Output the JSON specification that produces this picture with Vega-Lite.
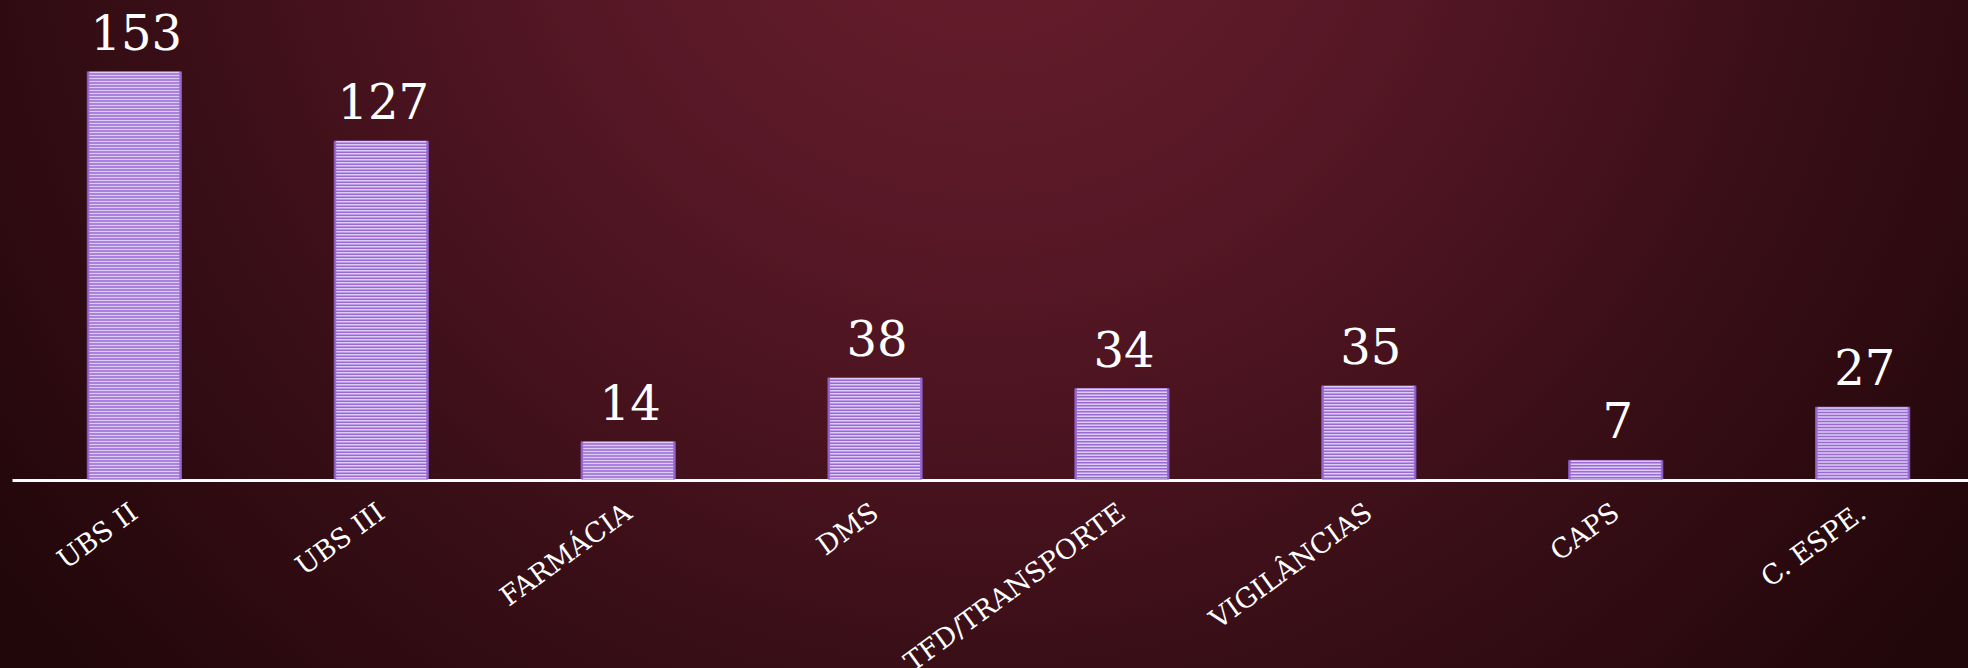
{
  "$schema": "https://vega.github.io/schema/vega-lite/v6.json",
  "width": 1968,
  "height": 668,
  "autosize": {"type": "none"},
  "padding": 0,
  "background": "#2a0a10",
  "view": {
    "stroke": null,
    "fill": {
      "gradient": "radial",
      "x1": 0.5, "y1": 0.25, "r1": 0,
      "x2": 0.5, "y2": 0.25, "r2": 0.62,
      "stops": [
        {"offset": 0, "color": "#6a1e2d"},
        {"offset": 0.35, "color": "#561725"},
        {"offset": 0.7, "color": "#380e16"},
        {"offset": 1, "color": "#22070a"}
      ]
    }
  },
  "data": {
    "values": [
      {"categoria": "UBS II", "valor": 153},
      {"categoria": "UBS III", "valor": 127},
      {"categoria": "FARMÁCIA", "valor": 14},
      {"categoria": "DMS", "valor": 38},
      {"categoria": "TFD/TRANSPORTE", "valor": 34},
      {"categoria": "VIGILÂNCIAS", "valor": 35},
      {"categoria": "CAPS", "valor": 7},
      {"categoria": "C. ESPE.", "valor": 27}
    ]
  },
  "encoding": {
    "x": {
      "field": "categoria",
      "type": "nominal",
      "sort": null,
      "scale": {"range": [12, 1985], "paddingInner": 0.619, "paddingOuter": 0.305},
      "axis": {
        "title": null,
        "orient": "bottom",
        "offset": -188,
        "domainColor": "#ffffff",
        "domainWidth": 3,
        "ticks": false,
        "tickSize": 0,
        "labelAngle": -36,
        "labelAlign": "right",
        "labelBaseline": "top",
        "labelPadding": 19,
        "labelOffset": -7,
        "labelColor": "#ffffff",
        "labelFont": "DejaVu Serif",
        "labelFontSize": 27,
        "labelOverlap": false,
        "labelLimit": 0,
        "grid": false
      }
    }
  },
  "layer": [
    {
      "mark": {"type": "bar", "fill": "#9a6ad0", "stroke": "#8a5cc4", "strokeWidth": 1},
      "encoding": {
        "y": {"field": "valor", "type": "quantitative", "scale": {"domain": [-71, 180], "nice": false, "zero": false}, "axis": null},
        "y2": {"datum": 0}
      }
    },
    {
      "mark": {"type": "rule", "color": "#dccbf6", "strokeWidth": 90, "strokeCap": "butt", "strokeDash": [1.5, 1.5]},
      "encoding": {
        "y": {"field": "valor", "type": "quantitative"},
        "y2": {"datum": 0}
      }
    },
    {
      "mark": {"type": "text", "color": "#ffffff", "font": "DejaVu Serif", "fontSize": 48, "baseline": "alphabetic", "dy": -22, "dx": 2},
      "encoding": {
        "y": {"field": "valor", "type": "quantitative"},
        "text": {"field": "valor", "type": "quantitative"}
      }
    }
  ]
}
